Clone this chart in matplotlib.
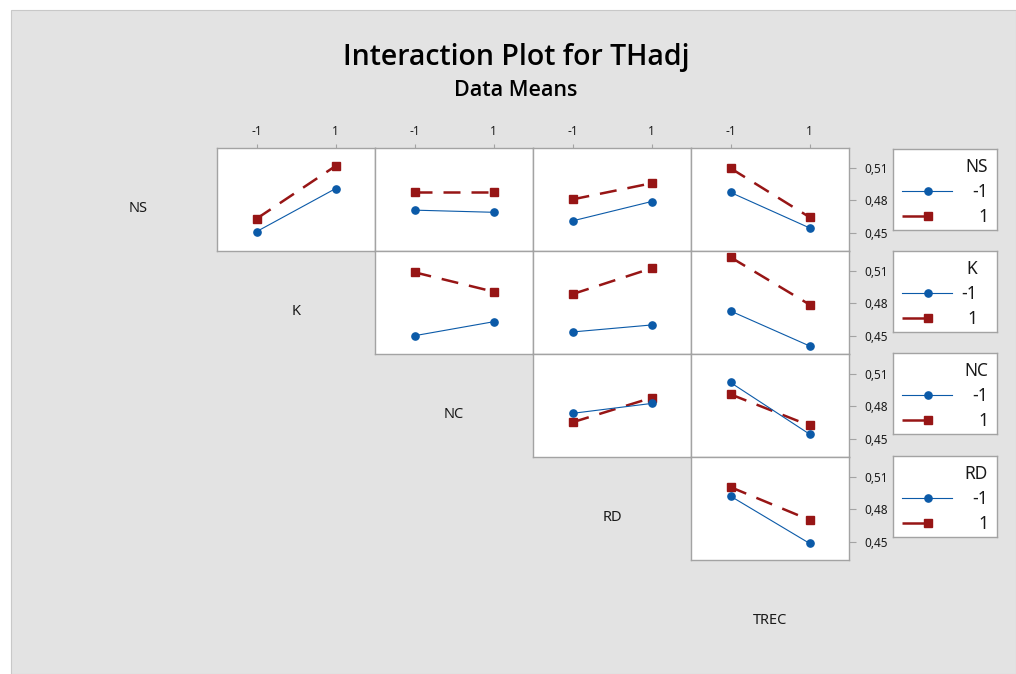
import matplotlib
matplotlib.use("Agg")
import matplotlib.pyplot as plt
from matplotlib import font_manager
from matplotlib.patches import Rectangle
from matplotlib.lines import Line2D

plt.rcParams['font.family'] = ['Noto Sans', 'DejaVu Sans']

# Factor names and coded levels
factors = ["NS", "K", "NC", "RD", "TREC"]
levels = [-1, 1]
level_labels = ["-1", "1"]
y_ticks = [0.45, 0.48, 0.51]
y_tick_labels = ["0,45", "0,48", "0,51"]

# Mean THadj for each row factor at level -1 (lo) and 1 (hi),
# versus each later factor at levels -1 and 1
ns_lo = [[0.451, 0.491], [0.471, 0.469], [0.461, 0.479], [0.4875, 0.4545]]
ns_hi = [[0.463, 0.512], [0.488, 0.488], [0.481, 0.496], [0.510, 0.4645]]
k_lo = [[0.450, 0.463], [0.4535, 0.460], [0.473, 0.4405]]
k_hi = [[0.509, 0.491], [0.4887, 0.5127], [0.523, 0.479]]
nc_lo = [[0.4736, 0.4828], [0.5023, 0.4543]]
nc_hi = [[0.4653, 0.488], [0.4913, 0.4623]]
rd_lo = [[0.4924, 0.4485]]
rd_hi = [[0.5008, 0.4703]]

lo_means = [ns_lo, k_lo, nc_lo, rd_lo]
hi_means = [ns_hi, k_hi, nc_hi, rd_hi]

# use a semibold face for the headings when one is installed
title_family = ['Noto Sans', 'DejaVu Sans']
title_weight = "normal"
for fam in ["Open Sans", "Noto Sans", "Lato", "Inter", "Roboto"]:
    if any(f.name == fam and f.weight in (500, 600, "medium", "semibold",
                                          "demibold")
           for f in font_manager.fontManager.ttflist):
        title_family = [fam, 'DejaVu Sans']
        title_weight = "semibold"
        break

W, H = 1016, 674
fig = plt.figure(figsize=(W / 100, H / 100), dpi=100, facecolor="white")

BG = "#e3e3e3"
EDGE = "#a3a3a3"
BLUE = "#0b5aa8"
RED = "#971515"
TXT = "#1a1a1a"

# grey panel background
fig.patches.append(Rectangle((11 / W, 0), 1 - 11 / W, (H - 10) / H,
                             transform=fig.transFigure, facecolor=BG,
                             edgecolor="#c8c8c8", linewidth=0.8, zorder=-10))


def fbox(x, y, w, h):
    return [x / W, 1 - (y + h) / H, w / W, h / H]


X0, Y0, CW, RH = 217, 148, 158, 103
YLIM = (0.433, 0.5288)

fig.text(516 / W, 1 - 58 / H, "Interaction Plot for THadj", ha="center",
         va="center", fontsize=20.5, color="black", family=title_family,
         fontweight=title_weight)
fig.text(516 / W, 1 - 90 / H, "Data Means", ha="center", va="center",
         fontsize=15.5, color="black", family=title_family,
         fontweight=title_weight)

for r in range(4):
    for c in range(r + 1, 5):
        ax = fig.add_axes(fbox(X0 + CW * (c - 1), Y0 + RH * r, CW, RH))
        ax.set_facecolor("white")
        lo = lo_means[r][c - r - 1]
        hi = hi_means[r][c - r - 1]
        ax.plot(levels, lo, color=BLUE, lw=0.8, marker="o", ms=5.2,
                mec=BLUE, mfc=BLUE, zorder=3)
        ax.plot(levels, hi, color=RED, lw=1.8, marker="s", ms=6,
                mec=RED, mfc=RED, dashes=(6.8, 4.4), zorder=2)
        ax.set_xlim(-2, 2)
        ax.set_ylim(*YLIM)
        for s in ax.spines.values():
            s.set_color(EDGE)
            s.set_linewidth(1.0)
        ax.tick_params(which="both", length=0)
        ax.set_xticks([])
        ax.set_yticks([])
        if r == 0:
            ax.xaxis.tick_top()
            ax.set_xticks(levels)
            ax.set_xticklabels(level_labels, fontsize=8.5, color=TXT,
                               fontweight="bold")
            ax.tick_params(axis="x", top=True, length=3, width=0.8,
                           color=EDGE, pad=4)
        if c == 4:
            ax.yaxis.tick_right()
            ax.set_yticks(y_ticks)
            ax.set_yticklabels(y_tick_labels, fontsize=8.5, color=TXT)
            ax.tick_params(axis="y", right=True, length=5, width=0.8,
                           color=EDGE, pad=6)

# factor names along the diagonal
for i, name in enumerate(factors):
    cx = X0 + CW * (i - 1) + CW / 2
    cy = Y0 + RH * i + RH / 2 + 9
    fig.text(cx / W, 1 - cy / H, name, ha="center", va="center",
             fontsize=10.5, color=TXT)

# legends, one per row factor
leg_tops = [149, 251, 353, 456]
for i in range(4):
    lax = fig.add_axes(fbox(893, leg_tops[i], 104, 81))
    lax.set_xlim(893, 997)
    lax.set_ylim(leg_tops[i] + 81, leg_tops[i])
    lax.set_xticks([])
    lax.set_yticks([])
    lax.set_facecolor("white")
    for s in lax.spines.values():
        s.set_color(EDGE)
        s.set_linewidth(1.0)
    t = leg_tops[i]
    name = factors[i]
    right = 977 if name == "K" else 988
    lax.text(right, t + 18, name, ha="right", va="center", fontsize=12.5,
             color=TXT)
    lax.add_line(Line2D([902, 952], [t + 42, t + 42], color=BLUE, lw=0.8))
    lax.add_line(Line2D([928], [t + 42], color=BLUE, marker="o", ms=5.2,
                        ls="none"))
    lax.add_line(Line2D([902, 948], [t + 67, t + 67], color=RED, lw=1.8,
                        dashes=(10, 9)))
    lax.add_line(Line2D([928], [t + 67], color=RED, marker="s", ms=6,
                        ls="none"))
    lax.text(right, t + 43, level_labels[0], ha="right", va="center",
             fontsize=12.5, color=TXT)
    lax.text(right, t + 68, level_labels[1], ha="right", va="center",
             fontsize=12.5, color=TXT)

fig.savefig("out.png", dpi=100, facecolor="white")
